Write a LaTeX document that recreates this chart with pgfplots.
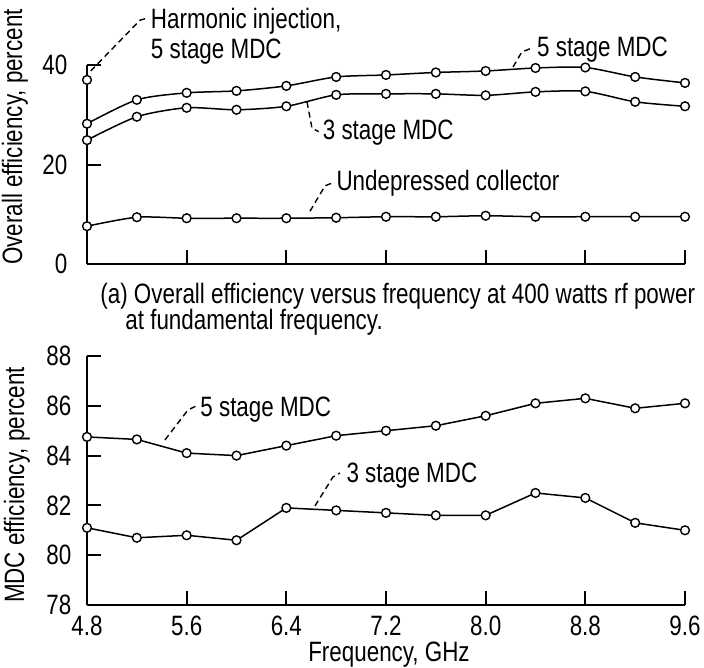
\documentclass[border=0pt]{standalone}
\usepackage{pgfplots}
\pgfplotsset{compat=1.18}
\usepackage{fontspec}
\setmainfont{Liberation Sans}[FakeStretch=0.8]
\tikzset{ann/.style={dash pattern=on 3bp off 2bp, line width=0.7bp}}

\begin{document}
\fontsize{14bp}{15bp}\selectfont
\begin{tikzpicture}[font=\fontsize{14bp}{15bp}\selectfont]
\pgfplotsset{
  common/.style={
    scale only axis, width=299bp, axis lines*=left,
    axis line style={line width=1.1bp,-},
    tick align=inside, major tick length=7bp,
    tick style={line width=1bp, black},
    xmin=4.8, xmax=9.6, xtick={4.8,5.6,6.4,7.2,8.0,8.8,9.6},
    clip=false, /pgf/number format/assume math mode=true,
  },
  dat/.style={black, line width=0.75bp, mark=*, mark size=2.2bp,
      mark options={fill=white, draw=black, line width=0.7bp, solid}},
}
\path (-43.5bp,-201bp) rectangle (308.5bp,132bp);
% ---------- top panel ----------
\begin{axis}[common, at={(0,0)}, anchor=south west, height=99.5bp,
  ymin=0, ymax=40, ytick={0,20,40}, xticklabels={},
  yticklabel style={xshift=-5bp}]
\addplot[dat, smooth, tension=0.45] coordinates {
(4.8,28.2) (5.2,33.0) (5.6,34.4) (6.0,34.8) (6.4,35.8) (6.8,37.6) (7.2,38.0)
(7.6,38.5) (8.0,38.8) (8.4,39.4) (8.8,39.5) (9.2,37.6) (9.6,36.4)};
\addplot[dat, smooth, tension=0.45] coordinates {
(4.8,24.9) (5.2,29.6) (5.6,31.4) (6.0,31.0) (6.4,31.7) (6.8,34.0) (7.2,34.2)
(7.6,34.2) (8.0,33.9) (8.4,34.6) (8.8,34.7) (9.2,32.6) (9.6,31.7)};
\addplot[dat, smooth, tension=0.45] coordinates {
(4.8,7.6) (5.2,9.4) (5.6,9.2) (6.0,9.2) (6.4,9.2) (6.8,9.3) (7.2,9.5)
(7.6,9.5) (8.0,9.7) (8.4,9.5) (8.8,9.5) (9.2,9.5) (9.6,9.5)};
\addplot[dat, only marks] coordinates {(4.8,37.0)};
% annotations
\draw[ann] (axis cs:4.83,38.8) -- (axis cs:5.225,49.0) -- (axis cs:5.28,49.4);
\node[anchor=west, align=left, inner sep=0pt] at (axis cs:5.31,45.8) {Harmonic injection,\\5 stage MDC};
\draw[ann] (axis cs:8.22,39.6) -- (axis cs:8.29,42.6) -- (axis cs:8.36,43.3);
\node[anchor=west, inner sep=0pt] at (axis cs:8.41,43.0) {5 stage MDC};
\draw[ann] (axis cs:6.566,32.6) -- (axis cs:6.606,27.3) -- (axis cs:6.66,26.6);
\node[anchor=west, inner sep=0pt] at (axis cs:6.69,26.5) {3 stage MDC};
\draw[ann] (axis cs:6.59,10.6) -- (axis cs:6.71,15.7) -- (axis cs:6.77,16.3);
\node[anchor=west, inner sep=0pt] at (axis cs:6.80,16.3) {Undepressed collector};
\end{axis}
% ---------- bottom panel ----------
\begin{axis}[common, at={(0,-170.5bp)}, anchor=south west, height=124.5bp,
  ymin=78, ymax=88, ytick={78,80,...,88},
  xticklabels={4.8,5.6,6.4,7.2,8.0,8.8,9.6},
  xticklabel style={inner sep=0pt, yshift=-5.5bp}, yticklabel style={xshift=-3bp}]
\addplot[dat] coordinates {
(4.8,84.75) (5.2,84.65) (5.6,84.1) (6.0,84.0) (6.4,84.4) (6.8,84.8) (7.2,85.0)
(7.6,85.2) (8.0,85.6) (8.4,86.1) (8.8,86.3) (9.2,85.9) (9.6,86.1)};
\addplot[dat] coordinates {
(4.8,81.1) (5.2,80.7) (5.6,80.8) (6.0,80.6) (6.4,81.9) (6.8,81.8) (7.2,81.7)
(7.6,81.6) (8.0,81.6) (8.4,82.5) (8.8,82.3) (9.2,81.3) (9.6,81.0)};
\draw[ann] (axis cs:5.426,84.63) -- (axis cs:5.61,85.83) -- (axis cs:5.675,85.99);
\node[anchor=west, inner sep=0pt] at (axis cs:5.707,85.83) {5 stage MDC};
\draw[ann] (axis cs:6.63,81.98) -- (axis cs:6.774,83.14) -- (axis cs:6.83,83.3);
\node[anchor=west, inner sep=0pt] at (axis cs:6.88,83.18) {3 stage MDC};
\end{axis}
% ---------- labels ----------
\node[rotate=90, inner sep=0pt] at (-36bp,63.5bp) {Overall efficiency, percent};
\node[rotate=90, inner sep=0pt] at (-35bp,-110.5bp) {MDC efficiency, percent};
\node[inner sep=0pt] at (151bp,-195.5bp) {Frequency, GHz};
\node[anchor=west, inner sep=0pt] at (6.5bp,-16bp) {(a) Overall efficiency versus frequency at 400 watts rf power};
\node[anchor=west, inner sep=0pt] at (19bp,-29bp) {at fundamental frequency.};
\end{tikzpicture}
\end{document}
